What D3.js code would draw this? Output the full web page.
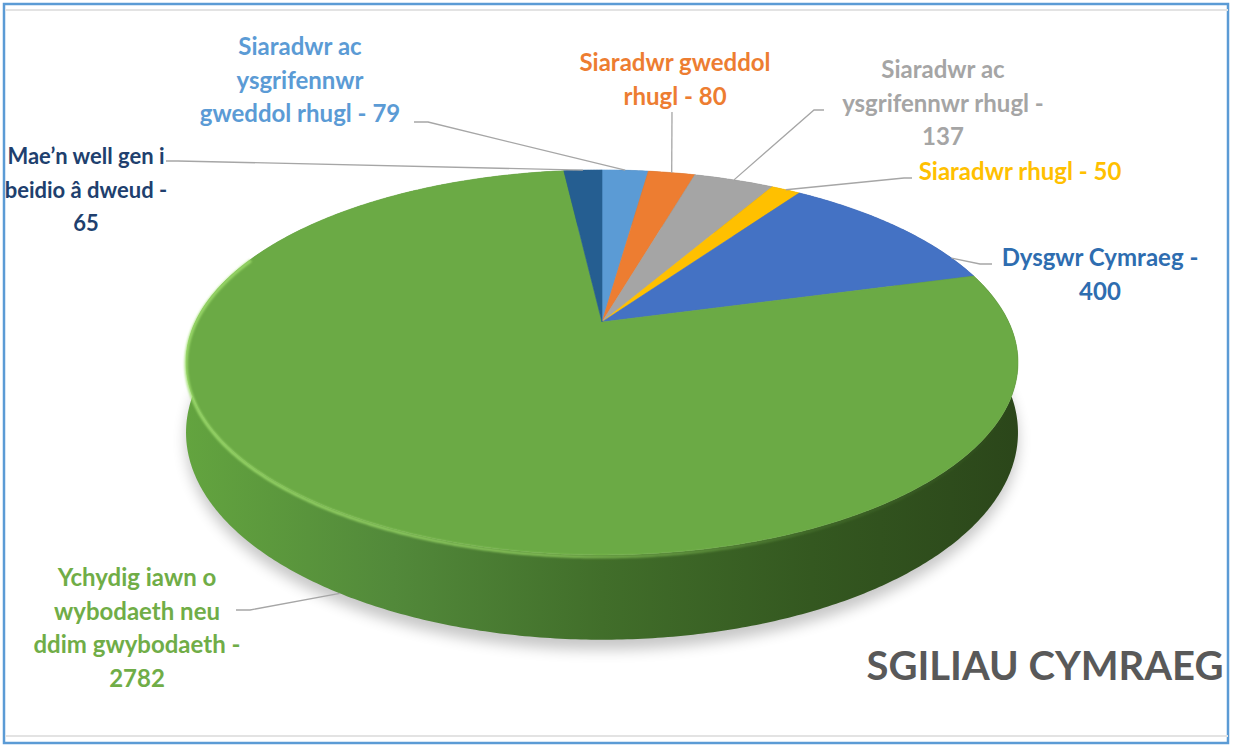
<!DOCTYPE html>
<html>
<head>
<meta charset="utf-8">
<script src="https://cdn.jsdelivr.net/npm/d3@7"></script>
<style>
  body { margin: 0; background: #fff; }
  svg { display: block; }
  text { font-family: Lato, "Open Sans", sans-serif; font-weight: 700; }
</style>
</head>
<body>
<div id="chart"></div>
<script>
// data, clockwise from 12 o'clock (Excel order)
var categories = [
  "Siaradwr ac ysgrifennwr gweddol rhugl",
  "Siaradwr gweddol rhugl",
  "Siaradwr ac ysgrifennwr rhugl",
  "Siaradwr rhugl",
  "Dysgwr Cymraeg",
  "Ychydig iawn o wybodaeth neu ddim gwybodaeth",
  "Mae’n well gen i beidio â dweud"
];
var values = [79, 80, 137, 50, 400, 2782, 65];
var colors = ["#5B9BD5", "#ED7D31", "#A5A5A5", "#FFC000", "#4472C4", "#6BAA45", "#255E91"];
var labelColors = ["#5B9BD5", "#ED7D31", "#A5A5A5", "#FFC000", "#2E6DB0", "#70AD47", "#203F6E"];
// words per label line
var wrap = [[2, 1, 4], [2, 3], [2, 3, 1], [4], [3, 1], [3, 2, 3, 1], [4, 4, 1]];
var title = "SGILIAU CYMRAEG";

// label layout: centre x, first baseline, font size, leader start, angle the leader points at
var labelLayout = [
  {x: 300, y: 55, size: 24, lead: [[414, 122], [428, 122]], at: "mid"},
  {x: 675, y: 71, size: 24, lead: [[672, 112]], at: "mid"},
  {x: 943, y: 78, size: 24, lead: [[824, 110], [814, 110]], at: "mid"},
  {x: 1020, y: 180, size: 24, lead: [[912, 178], [904, 178]], at: "mid"},
  {x: 1100, y: 266, size: 24, lead: [[992, 264], [980, 264]], at: 68},
  {x: 137, y: 586, size: 24, lead: [[236, 610], [250, 610]], at: 212},
  {x: 86, y: 164, size: 22, lead: [[166, 161], [178, 161]], at: "mid"}
];

var W = 1233, H = 748;
var cx = 602, cy = 322, A = 406.7, B = 184, K = 0.21, depth = 67;

// perspective projection of a point on the pie disk
function proj(theta, r, drop) {
  var u = r * Math.sin(theta), w = -r * Math.cos(theta);
  var d = 1 - K * w;
  return [cx + A * u / d, cy + (B * w + drop) / d];
}
function arcPts(a0, a1, drop) {
  var n = Math.max(2, Math.ceil(Math.abs(a1 - a0) / 0.01));
  return d3.range(n + 1).map(function(i) { return proj(a0 + (a1 - a0) * i / n, 1, drop); });
}
var line = d3.line();

var svg = d3.select("#chart").append("svg")
    .attr("width", W)
    .attr("height", H);

var defs = svg.append("defs");
var wallGrad = defs.append("linearGradient")
    .attr("id", "wall")
    .attr("gradientUnits", "userSpaceOnUse")
    .attr("x1", 185).attr("x2", 1020).attr("y1", 0).attr("y2", 0);
[[0, "#63A43F"], [0.25, "#52893A"], [0.5, "#416E2A"], [0.75, "#345820"], [1, "#2B461A"]].forEach(function(s) {
  wallGrad.append("stop").attr("offset", s[0]).attr("stop-color", s[1]);
});
var rimGrad = defs.append("linearGradient")
    .attr("id", "rim")
    .attr("gradientUnits", "userSpaceOnUse")
    .attr("x1", 185).attr("x2", 1020).attr("y1", 0).attr("y2", 0);
[[0, "#A2E070", 0.9], [0.45, "#92D060", 0.8], [0.75, "#7CB850", 0.2], [1, "#7CB850", 0]].forEach(function(s) {
  rimGrad.append("stop").attr("offset", s[0]).attr("stop-color", s[1]).attr("stop-opacity", s[2]);
});
defs.append("filter").attr("id", "blur8").attr("x", "-20%").attr("y", "-20%").attr("width", "140%").attr("height", "140%")
  .append("feGaussianBlur").attr("stdDeviation", 7);
defs.append("filter").attr("id", "blur1")
  .append("feGaussianBlur").attr("stdDeviation", 1.2);

// frame, like the spreadsheet screenshot
svg.append("rect")
    .attr("x", 4).attr("y", 4).attr("width", W - 9).attr("height", H - 9)
    .attr("fill", "#fff").attr("stroke", "#5B9BD5").attr("stroke-width", 2.5);
svg.append("line").attr("x1", 5).attr("x2", W - 5).attr("y1", 10).attr("y2", 10)
    .attr("stroke", "#E3E3E3").attr("stroke-width", 2);
svg.append("line").attr("x1", 5).attr("x2", W - 5).attr("y1", 736).attr("y2", 736)
    .attr("stroke", "#E3E3E3").attr("stroke-width", 2);

var pie = d3.pie().sort(null).value(function(d) { return d; });
var arcs = pie(values);

var g = svg.append("g");

// soft shadow under the pie
g.append("path")
    .attr("d", line(arcPts(0, 2 * Math.PI, depth + 8)) + "Z")
    .attr("fill", "#000").attr("opacity", 0.22)
    .attr("filter", "url(#blur8)");

// side walls
g.selectAll("path.wall")
  .data(arcs)
  .enter()
  .append("path")
    .attr("class", "wall")
    .attr("d", function(d) {
      var top = arcPts(d.startAngle, d.endAngle, 0);
      var bot = arcPts(d.endAngle, d.startAngle, depth);
      return line(top.concat(bot)) + "Z";
    })
    .attr("fill", function(d, i) { return i === 5 ? "url(#wall)" : d3.color(colors[i]).darker(1.2); });

// top faces
g.selectAll("path.top")
  .data(arcs)
  .enter()
  .append("path")
    .attr("class", "top")
    .attr("d", function(d) {
      return line([[cx, cy]].concat(arcPts(d.startAngle, d.endAngle, 0))) + "Z";
    })
    .attr("fill", function(d, i) { return colors[i]; })
    .attr("stroke", function(d, i) { return colors[i]; })
    .attr("stroke-width", 0.6);

// bevel highlight on the front rim
g.append("path")
    .attr("d", line(arcPts(Math.PI * 0.55, Math.PI * 1.62, 1.5)))
    .attr("fill", "none")
    .attr("stroke", "url(#rim)")
    .attr("stroke-width", 3)
    .attr("filter", "url(#blur1)");

// leader lines
svg.selectAll("path.leader")
  .data(arcs)
  .enter()
  .append("path")
    .attr("class", "leader")
    .attr("d", function(d, i) {
      var L = labelLayout[i];
      var a = L.at === "mid" ? (d.startAngle + d.endAngle) / 2 : L.at * Math.PI / 180;
      var end = i === 5 ? proj(a, 1, depth) : proj(a, 1, 0);
      return line(L.lead.concat([end]));
    })
    .attr("fill", "none")
    .attr("stroke", "#A6A6A6")
    .attr("stroke-width", 1.3);

// labels
var labels = svg.selectAll("text.label")
  .data(arcs)
  .enter()
  .append("text")
    .attr("class", "label")
    .attr("text-anchor", "middle")
    .attr("font-size", function(d, i) { return labelLayout[i].size; })
    .attr("fill", function(d, i) { return labelColors[i]; });

labels.each(function(d, i) {
  var words = (categories[i] + " - " + values[i]).split(" ");
  var lines = [], k = 0;
  wrap[i].forEach(function(n) { lines.push(words.slice(k, k + n).join(" ")); k += n; });
  d3.select(this).selectAll("tspan")
    .data(lines)
    .enter()
    .append("tspan")
      .attr("x", labelLayout[i].x)
      .attr("y", function(t, j) { return labelLayout[i].y + j * 33.5; })
      .text(function(t) { return t; });
});

svg.append("text")
    .attr("x", 1045)
    .attr("y", 680)
    .attr("text-anchor", "middle")
    .attr("font-size", 40)
    .attr("fill", "#595959")
    .text(title);
</script>
</body>
</html>
